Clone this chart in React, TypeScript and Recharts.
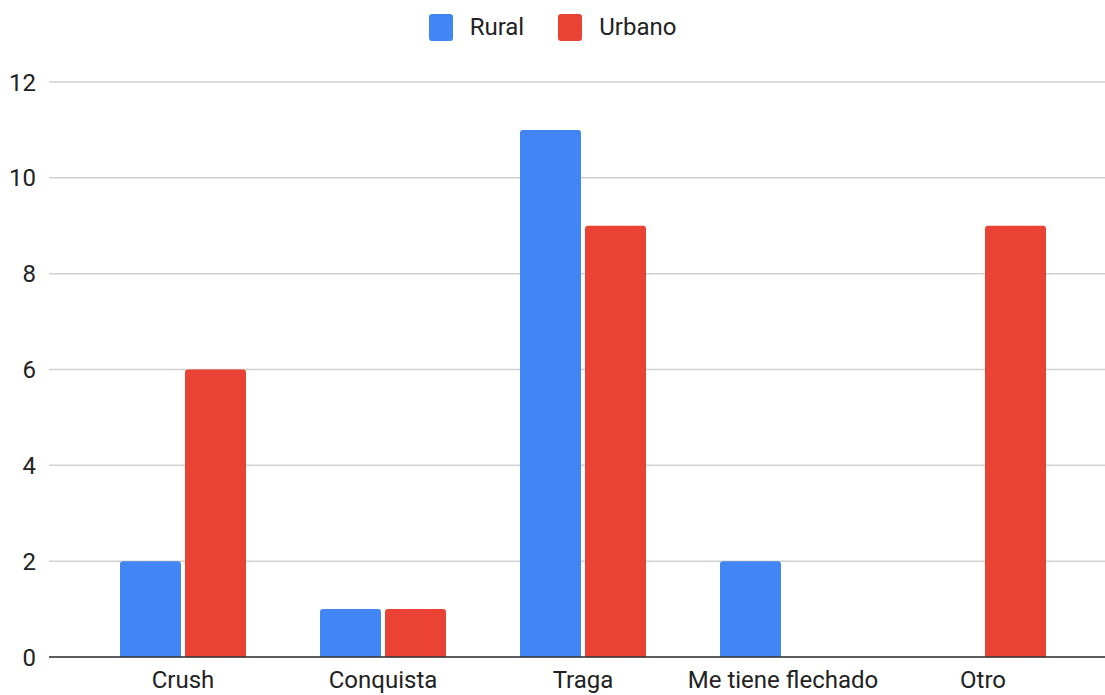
import React from "react";
import { BarChart, Bar, XAxis, YAxis, CartesianGrid, Legend } from "recharts";

const categories = ["Crush", "Conquista", "Traga", "Me tiene flechado", "Otro"];
const rural = [2, 1, 11, 2, 0];
const urbano = [6, 1, 9, 0, 9];
const yTicks = [0, 2, 4, 6, 8, 10, 12];

const data = categories.map((c, i) => ({ name: c, Rural: rural[i], Urbano: urbano[i] }));

const FONT = "Roboto, Arial, sans-serif";

const renderLegend = (props: any) => {
  const { payload } = props;
  return (
    <div style={{ display: "flex", justifyContent: "center", alignItems: "center", fontFamily: FONT, fontSize: 24, color: "#222", height: 28 }}>
      {payload.map((p: any, i: number) => (
        <div key={i} style={{ display: "flex", alignItems: "center", marginLeft: i === 0 ? 0 : 34 }}>
          <div style={{ width: 24, height: 27, background: p.color, borderRadius: 3, marginRight: 17 }} />
          <span>{p.value}</span>
        </div>
      ))}
    </div>
  );
};

export default function App() {
  return (
    <div style={{ position: "absolute", left: 0, top: 0, width: 1105, height: 695, background: "#fff" }}>
      <BarChart
        width={1105}
        height={695}
        data={data}
        margin={{ top: 54, right: 0, bottom: 0, left: 0 }}
        barSize={61}
        barGap={4}
      >
        <CartesianGrid vertical={false} stroke="#d0d0d0" strokeWidth={1.5} />
        <XAxis
          dataKey="name"
          height={38}
          padding={{ left: 34, right: 22 }}
          axisLine={{ stroke: "#333", strokeWidth: 1.5 }}
          tickLine={false}
          tickSize={0}
          tickMargin={14}
          tick={{ fill: "#222", fontSize: 24, fontFamily: FONT }}
          interval={0}
        />
        <YAxis
          width={49}
          domain={[0, 12]}
          ticks={yTicks}
          axisLine={false}
          tickLine={false}
          tickSize={0}
          tickMargin={13}
          tick={{ fill: "#222", fontSize: 24, fontFamily: FONT }}
        />
        <Legend verticalAlign="top" content={renderLegend} wrapperStyle={{ top: 13, left: 0, width: 1105 }} />
        <Bar dataKey="Rural" fill="#4285F4" radius={[3, 3, 0, 0]} isAnimationActive={false} />
        <Bar dataKey="Urbano" fill="#EA4335" radius={[3, 3, 0, 0]} isAnimationActive={false} />
      </BarChart>
    </div>
  );
}
